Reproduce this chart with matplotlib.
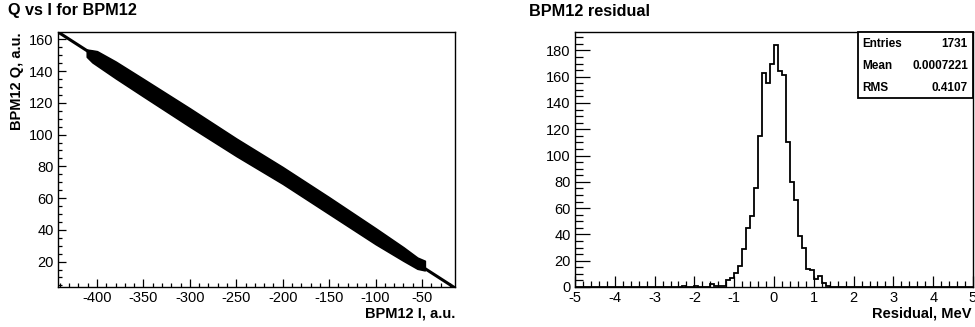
import numpy as np
import matplotlib
matplotlib.use("Agg")
import matplotlib.pyplot as plt
from matplotlib.ticker import MultipleLocator
from matplotlib.patches import Rectangle

plt.rcParams["font.family"] = ["Liberation Sans", "DejaVu Sans"]
plt.rcParams["axes.unicode_minus"] = False

# ── Data: Q vs I band ────────────────────────────────────────────────────
band_I = [-411, -405, -400, -380, -350, -300, -250, -200, -150, -100, -70, -55, -47]
band_Q_hi = [153.5, 153.0, 152.5, 146.0, 135.0, 116.5, 97.5, 79.5, 60.5, 41.0, 29.0, 22.5, 20.5]
band_Q_lo = [149.0, 145.5, 143.5, 135.5, 124.0, 105.0, 86.5, 69.0, 50.0, 31.0, 20.5, 15.5, 14.5]

# fitted straight line (end points)
fit_I = [-442, -15]
fit_Q = [164.6, 3.6]

# ── Data: residual histogram, 0.1 MeV bins starting at -2.3 ─────────────
res_first_edge = -2.3
res_counts = [1, 0, 0, 1, 0, 0, 0, 2, 1, 1, 1, 5, 7, 11, 16, 29, 45, 54, 75, 115,
              163, 155, 170, 184, 164, 161, 110, 80, 66, 39, 30, 14, 13, 6, 8, 3, 1]
stat_names = ["Entries", "Mean", "RMS"]
stat_values = ["1731", "0.0007221", "0.4107"]

W, H = 975, 327
fig = plt.figure(figsize=(W / 100, H / 100), dpi=100)


def fbox(x0, y0, x1, y1):
    return [x0 / W, 1 - y1 / H, (x1 - x0) / W, (y1 - y0) / H]


def style(ax, maj_len_x, maj_len_y):
    for s in ax.spines.values():
        s.set_linewidth(1.0)
    ax.tick_params(which="both", direction="in", top=False, right=False,
                   labelsize=10.5, width=0.9)
    ax.tick_params(axis="x", which="major", length=maj_len_x, pad=3)
    ax.tick_params(axis="x", which="minor", length=maj_len_x / 2)
    ax.tick_params(axis="y", which="major", length=maj_len_y, pad=3)
    ax.tick_params(axis="y", which="minor", length=maj_len_y / 2)


# ── Left: Q vs I ─────────────────────────────────────────────────────────
ax1 = fig.add_axes(fbox(58, 32, 455, 287))
ax1.fill_between(band_I, band_Q_lo, band_Q_hi, color="black", lw=1.2, edgecolor="black")
ax1.plot(fit_I, fit_Q, color="black", lw=2.2)
ax1.set_xlim(-442, -14.5)
ax1.set_ylim(4, 164.6)
ax1.xaxis.set_minor_locator(MultipleLocator(10))
ax1.yaxis.set_minor_locator(MultipleLocator(5))
ax1.set_yticks(range(20, 161, 20))
ax1.set_xticks(range(-400, -49, 50))
style(ax1, 6, 6)

fig.text(8 / W, 1 - 11 / H, "Q vs I for BPM12", fontsize=11.7, fontweight="bold",
         ha="left", va="center")
fig.text(455 / W, 1 - 313 / H, "BPM12 I, a.u.", fontsize=10.5, fontweight="bold",
         ha="right", va="center")
fig.text(17 / W, 1 - 32 / H, "BPM12 Q, a.u.", fontsize=10.5, fontweight="bold",
         ha="center", va="top", rotation=90)

# ── Right: residual histogram ────────────────────────────────────────────
ax2 = fig.add_axes(fbox(575, 32, 973, 287))
n_lead = int(round((res_first_edge + 5) / 0.1))
counts = [0] * n_lead + res_counts
counts = counts + [0] * (100 - len(counts))
edges = np.linspace(-5, 5, 101)
ax2.stairs(counts, edges, color="black", lw=1.3)
ax2.set_xlim(-5, 5)
ax2.set_ylim(0, 194)
ax2.xaxis.set_major_locator(MultipleLocator(1))
ax2.xaxis.set_minor_locator(MultipleLocator(0.2))
ax2.yaxis.set_minor_locator(MultipleLocator(5))
ax2.set_yticks(range(0, 181, 20))
style(ax2, 8, 11)

fig.text(529 / W, 1 - 11 / H, "BPM12 residual", fontsize=11.7, fontweight="bold",
         ha="left", va="center")
fig.text(972 / W, 1 - 313 / H, "Residual, MeV", fontsize=10.5, fontweight="bold",
         ha="right", va="center")

# stat box
fig.patches.append(Rectangle((857.5 / W, 1 - 98 / H), (972.5 - 857.5) / W, (98 - 32) / H,
                             transform=fig.transFigure, facecolor="white",
                             edgecolor="black", lw=1.3, zorder=5))
for i, (name, val) in enumerate(zip(stat_names, stat_values)):
    y = 1 - (44 + 22 * i) / H
    fig.text(862 / W, y, name, fontsize=8.5, fontweight="bold", ha="left",
             va="center", zorder=6)
    fig.text(968 / W, y, val, fontsize=8.5, fontweight="bold", ha="right",
             va="center", zorder=6)

fig.savefig("out.png", dpi=100)
